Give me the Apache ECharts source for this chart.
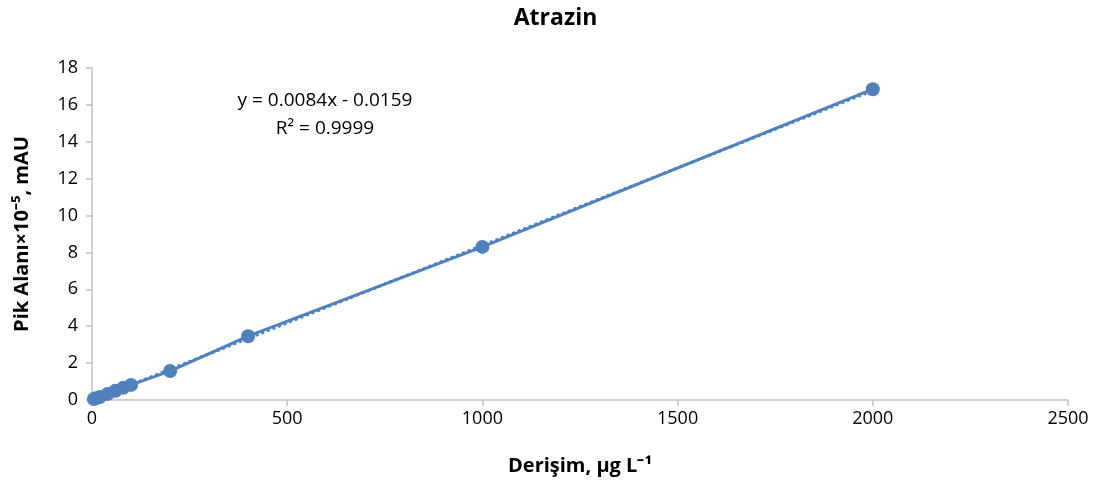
<!DOCTYPE html>
<html>
<head>
<meta charset="utf-8">
<script src="https://cdn.jsdelivr.net/npm/echarts@6/dist/echarts.min.js"></script>
<style>
  html, body { margin: 0; padding: 0; background: #fff; }
  #chart { width: 1111px; height: 490px; }
</style>
</head>
<body>
<div id="chart"></div>
<script>
  // konsantrasyon (µg/L) ve pik alanı
  var concX = [5, 10, 20, 40, 60, 80, 100, 200, 400, 1000, 2000];
  var areaY = [0.05, 0.09, 0.16, 0.33, 0.5, 0.66, 0.82, 1.57, 3.46, 8.3, 16.85];
  // Excel trend çizgisi uç noktaları
  var trendX = [5, 2000];
  var trendY = [0.026, 16.78];
  var xTicks = [0, 500, 1000, 1500, 2000, 2500];
  var yTicks = [0, 2, 4, 6, 8, 10, 12, 14, 16, 18];

  var blue = '#4f81bd';
  var font = '"Open Sans", "Liberation Sans", sans-serif';

  var chart = echarts.init(document.getElementById('chart'));
  chart.setOption({
    animation: false,
    backgroundColor: '#ffffff',
    title: {
      text: 'Atrazin',
      left: 'center',
      top: 2,
      textStyle: { fontFamily: font, fontSize: 23, fontWeight: 'bold', color: '#000' }
    },
    grid: { left: 92, right: 43, top: 68, bottom: 90 },
    xAxis: {
      type: 'value',
      min: xTicks[0],
      max: xTicks[xTicks.length - 1],
      interval: 500,
      name: 'Derişim, µg L⁻¹',
      nameLocation: 'middle',
      nameGap: 56,
      nameTextStyle: { fontFamily: font, fontSize: 20, fontWeight: 'bold', color: '#000' },
      axisLine: { show: true, lineStyle: { color: '#bfbfbf', width: 1.5 } },
      axisTick: { show: true, length: 6, lineStyle: { color: '#bfbfbf', width: 1.5 } },
      axisLabel: {
        fontFamily: font, fontSize: 18, color: '#000', margin: 10,
        formatter: function (v) { return String(v); }
      },
      splitLine: { show: false }
    },
    yAxis: {
      type: 'value',
      min: yTicks[0],
      max: yTicks[yTicks.length - 1],
      interval: 2,
      name: 'Pik Alanı×10⁻⁵, mAU',
      nameLocation: 'middle',
      nameRotate: 90,
      nameGap: 60,
      nameTextStyle: { fontFamily: font, fontSize: 20, fontWeight: 'bold', color: '#000' },
      axisLine: { show: true, lineStyle: { color: '#bfbfbf', width: 1.5 } },
      axisTick: { show: true, length: 6, lineStyle: { color: '#bfbfbf', width: 1.5 } },
      axisLabel: { fontFamily: font, fontSize: 18, color: '#000', margin: 14 },
      splitLine: { show: false }
    },
    series: [
      {
        type: 'line',
        data: trendX.map(function (x, i) { return [x, trendY[i]]; }),
        showSymbol: false,
        symbol: 'none',
        lineStyle: { color: blue, width: 3, type: 'dotted' },
        z: 1
      },
      {
        type: 'line',
        data: concX.map(function (x, i) { return [x, areaY[i]]; }),
        symbol: 'circle',
        symbolSize: 14,
        itemStyle: { color: blue },
        lineStyle: { color: blue, width: 3 },
        z: 2
      }
    ],
    graphic: [
      {
        type: 'text',
        x: 325,
        y: 91,
        style: {
          text: 'y = 0.0084x - 0.0159',
          textAlign: 'center',
          fontFamily: font,
          fontSize: 19,
          fill: '#000'
        }
      },
      {
        type: 'text',
        x: 325,
        y: 119,
        style: {
          text: 'R² = 0.9999',
          textAlign: 'center',
          fontFamily: font,
          fontSize: 19,
          fill: '#000'
        }
      }
    ]
  });
</script>
</body>
</html>
